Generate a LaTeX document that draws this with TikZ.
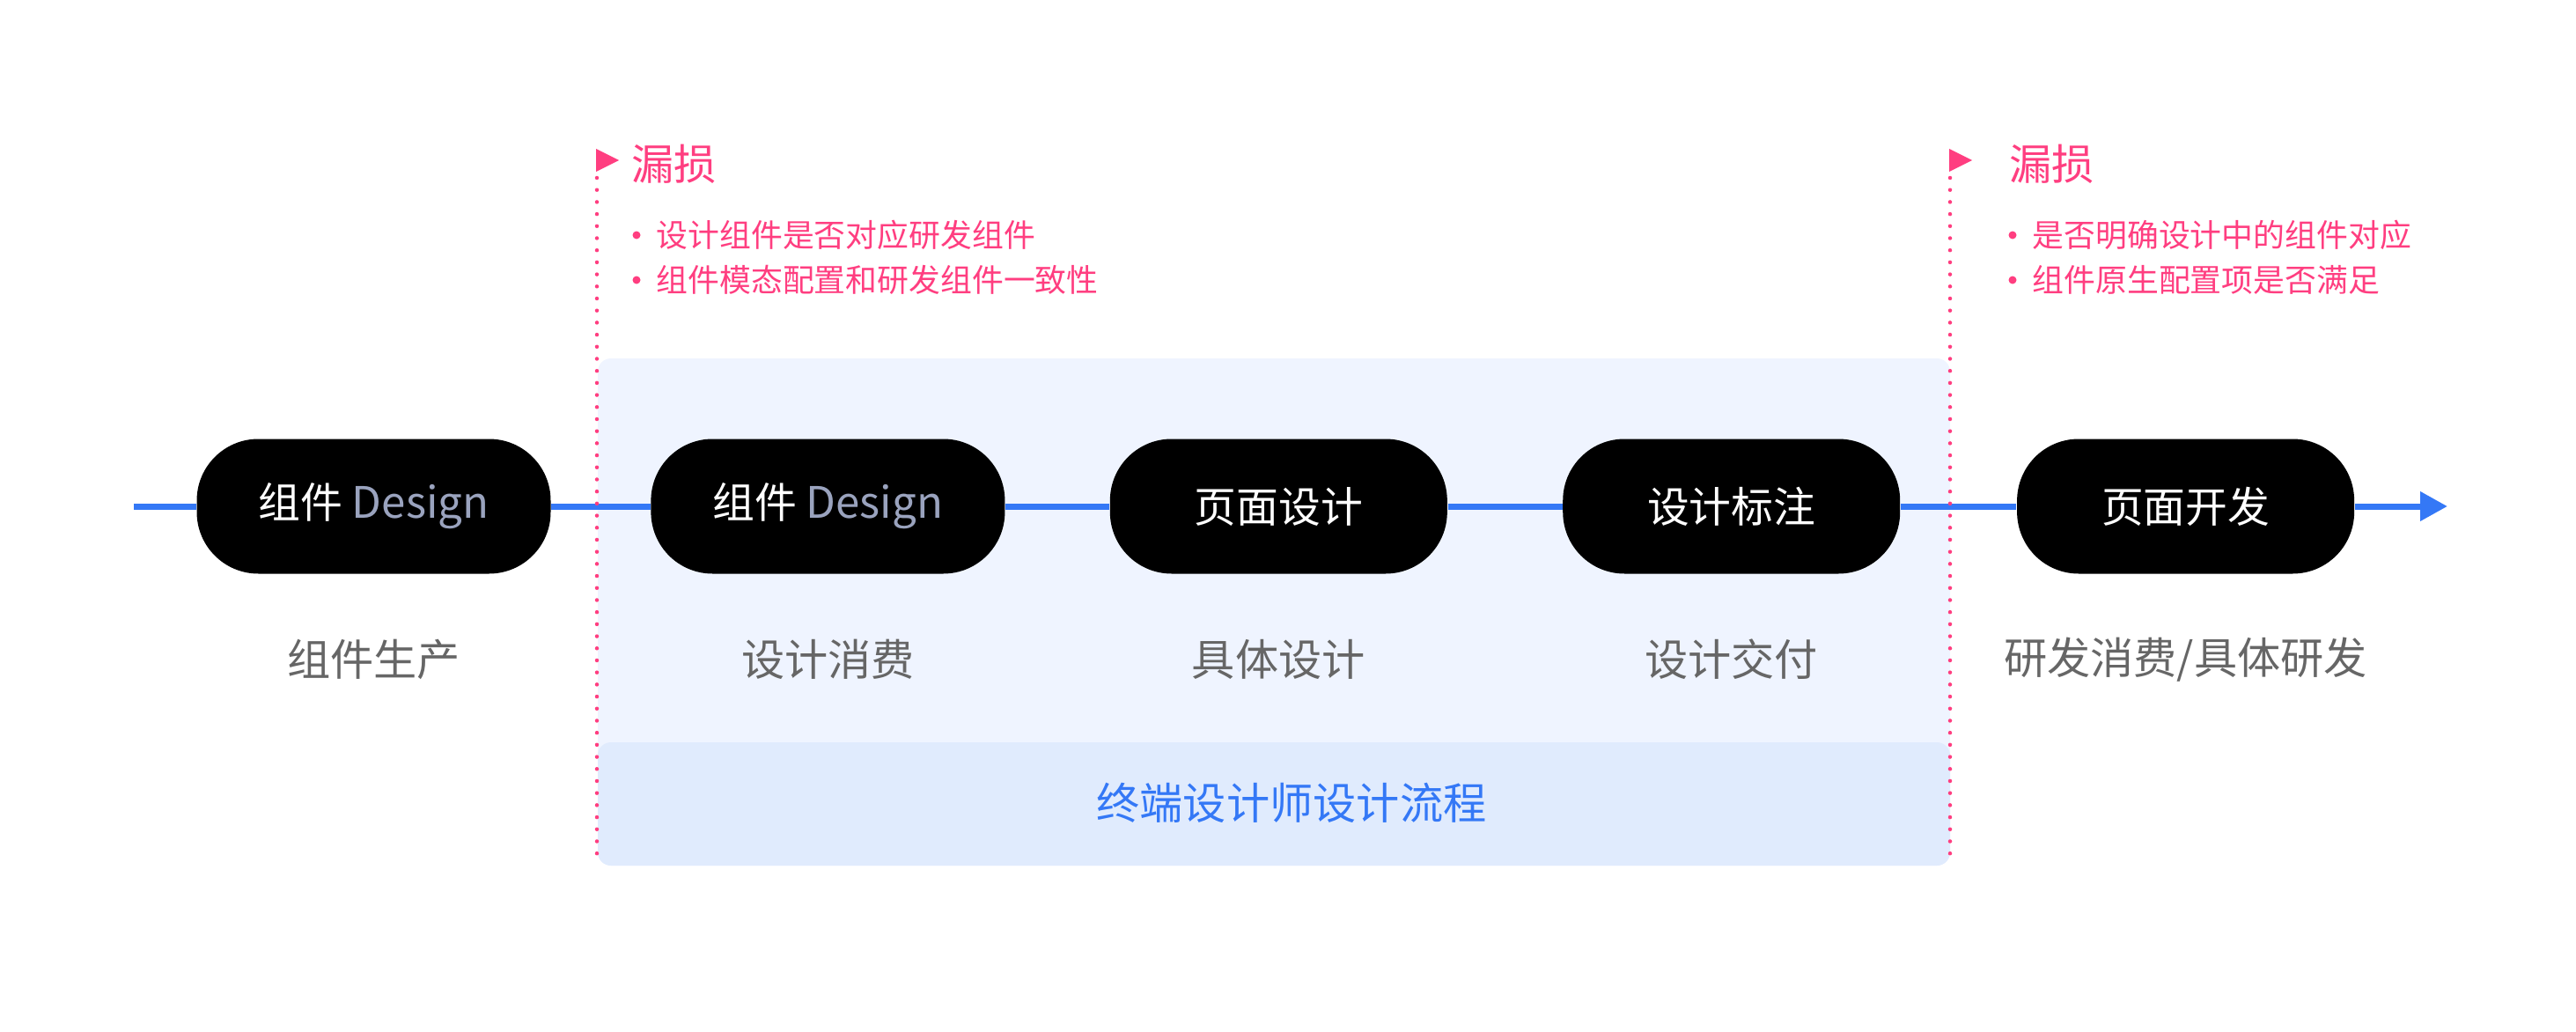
\documentclass[tikz,border=0pt]{standalone}
\usepackage{fontspec}
\setmainfont{Noto Sans CJK SC}
\usepackage{xcolor}
\usepackage{tikz}
\usetikzlibrary{arrows.meta, positioning, calc}

\definecolor{flowblue}{HTML}{3478F6}
\definecolor{leakpink}{HTML}{FF3E80}
\definecolor{paleblue}{HTML}{EFF4FF}
\definecolor{bandblue}{HTML}{E0EBFD}
\definecolor{designgray}{HTML}{9AA3BE}
\definecolor{labelgray}{HTML}{666666}

\newcommand{\designword}{{\fontsize{14}{16}\selectfont\color{designgray}Design}}

\begin{document}
\begin{tikzpicture}[
    node distance=1.125cm,
    pill/.style={rectangle, rounded corners=0.7cm, fill=black, minimum width=3.83cm, minimum height=1.53cm, align=center, text=white, font=\fontsize{13.6}{16}\selectfont},
    wide/.style={minimum width=4.02cm},
    lbl/.style={inner sep=0pt, text=labelgray, font=\fontsize{14}{16}\selectfont},
    leak/.style={inner sep=0pt, anchor=west, text=leakpink, font=\fontsize{13.7}{16}\selectfont},
    note/.style={inner sep=0pt, anchor=west, text=leakpink, font=\fontsize{10.2}{12}\selectfont},
    gate/.style={leakpink, line width=0.045cm, line cap=round, dash pattern=on 0pt off 0.137cm},
    arr/.style={-{Triangle[length=0.31cm, width=0.32cm]}, flowblue, line width=0.07cm},
    seg/.style={flowblue, line width=0.07cm},
]
    \useasboundingbox (0,0) rectangle (29.26,-11.72);

    % Designer area
    \fill[paleblue, rounded corners=0.15cm] (6.79,-4.07) rectangle (22.15,-9.83);
    \fill[bandblue, rounded corners=0.15cm] (6.79,-8.43) rectangle (22.15,-9.83);
    \node[inner sep=0pt, text=flowblue, font=\fontsize{14}{16}\selectfont] (band) at (14.67,-9.12) {终端设计师设计流程};

    % Steps
    \coordinate (start) at (1.52,-5.75);
    \coordinate (end) at (27.8,-5.75);
    \node[pill, wide] (p1) at (4.245,-5.75) {组件 \designword};
    \node[pill, wide, right=1.125cm of p1] (p2) {组件 \designword};
    \node[pill, right=1.18cm of p2] (p3) {页面设计};
    \node[pill, right=1.30cm of p3] (p4) {设计标注};
    \node[pill, right=1.315cm of p4] (p5) {页面开发};

    \draw[seg] (start) -- (p1);
    \foreach \a/\b in {p1/p2, p2/p3, p3/p4, p4/p5}
        \draw[seg] (\a) -- (\b);
    \draw[arr] (p5) -- (end);

    % Stage labels
    \node[lbl] (l1) at ($(p1)+(0,-1.74)$) {组件生产};
    \node[lbl] (l2) at ($(p2)+(0,-1.74)$) {设计消费};
    \node[lbl] (l3) at ($(p3)+(0,-1.74)$) {具体设计};
    \node[lbl] (l4) at ($(p4)+(0,-1.74)$) {设计交付};
    \node[lbl] (l5) at ($(p5)+(0,-1.74)$) {研发消费/具体研发};

    % Leak points
    \draw[gate] (6.78,-2.02) -- (6.78,-9.76);
    \fill[leakpink] (6.77,-1.69) -- (7.03,-1.82) -- (6.77,-1.95) -- cycle;
    \node[leak] (k1) at (7.17,-1.86) {漏损};
    \node[note] (n1) at (7.45,-2.67) {设计组件是否对应研发组件};
    \node[note] (n2) at (7.45,-3.18) {组件模态配置和研发组件一致性};

    \draw[gate] (22.15,-2.02) -- (22.15,-9.76);
    \fill[leakpink] (22.14,-1.69) -- (22.40,-1.82) -- (22.14,-1.95) -- cycle;
    \node[leak] (k2) at (22.82,-1.86) {漏损};
    \node[note] (n3) at (23.08,-2.67) {是否明确设计中的组件对应};
    \node[note] (n4) at (23.08,-3.18) {组件原生配置项是否满足};

    % Bullets
    \foreach \n in {n1, n2, n3, n4}
        \fill[leakpink] ($(\n.west)+(-0.22,0)$) circle (0.045cm);
\end{tikzpicture}
\end{document}
